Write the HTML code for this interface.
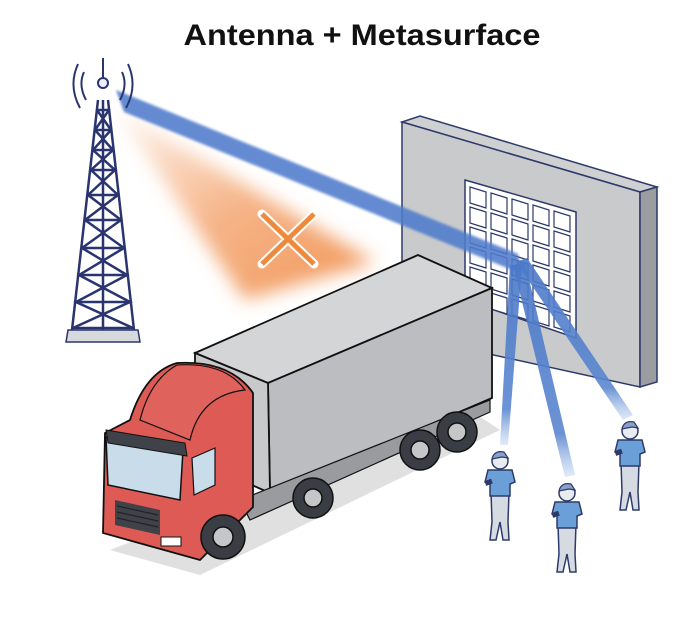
<!DOCTYPE html>
<html><head><meta charset="utf-8"><style>
html,body{margin:0;padding:0;background:#fff}
svg{display:block}
</style></head><body>
<svg width="690" height="621" viewBox="0 0 690 621" xmlns="http://www.w3.org/2000/svg">
<defs>
<linearGradient id="og" x1="0" y1="0" x2="1" y2="1">
<stop offset="0" stop-color="#f4a06a" stop-opacity="0.1"/>
<stop offset="0.5" stop-color="#f29a5e" stop-opacity="0.75"/>
<stop offset="1" stop-color="#f08a45" stop-opacity="0.9"/>
</linearGradient>
<filter id="blur" x="-20%" y="-20%" width="140%" height="140%"><feGaussianBlur stdDeviation="9"/></filter>
<filter id="blur2" x="-20%" y="-20%" width="140%" height="140%"><feGaussianBlur stdDeviation="1.2"/></filter>
<linearGradient id="bg1" x1="0" y1="0" x2="0" y2="1">
<stop offset="0" stop-color="#4a78c8"/>
<stop offset="0.8" stop-color="#5a86d0"/>
<stop offset="1" stop-color="#a9c3ea" stop-opacity="0.4"/>
</linearGradient>
<g id="person">
<path d="M-9,22 L-8,52 L-10,70 L-4,70 L0,52 L3,70 L9,70 L8,52 L9,22 Z" fill="#d6dbe2" stroke="#2d3a6a" stroke-width="1.5"/>
<path d="M-12,0 L12,0 L15,12 L10,14 L10,26 L-10,26 L-10,14 L-15,12 Z" fill="#6a9fd8" stroke="#2d3a6a" stroke-width="1.5"/>
<circle cx="0" cy="-9" r="8" fill="#e8ecf0" stroke="#2d3a6a" stroke-width="1.5"/>
<path d="M-8,-11 Q-6,-20 4,-18 L8,-12 L2,-13 Z" fill="#8aa0c8" stroke="#2d3a6a" stroke-width="1.2"/>
<rect x="-15" y="10" width="7" height="5" fill="#2d3a6a" transform="rotate(-20 -12 12)"/>
</g>
</defs>
<text x="362" y="45" text-anchor="middle" font-family="Liberation Sans, sans-serif" font-weight="bold" font-size="30" textLength="357" lengthAdjust="spacingAndGlyphs" fill="#111">Antenna + Metasurface</text>

<!-- orange cone -->
<polygon points="115,108 245,300 375,262" fill="url(#og)" filter="url(#blur)"/>
<!-- X -->
<g stroke="#fff" stroke-width="9" stroke-linecap="round"><line x1="262" y1="214" x2="314" y2="264"/><line x1="314" y1="214" x2="262" y2="264"/></g>
<g stroke="#ef8a3c" stroke-width="5"><line x1="262" y1="214" x2="314" y2="264"/><line x1="314" y1="214" x2="262" y2="264"/></g>

<!-- wall -->
<polygon points="402,122 420,116 657,187 640,192" fill="#cfd0d2" stroke="#2d3a6a" stroke-width="1.5"/>
<polygon points="402,122 640,192 640,387 402,335" fill="#c9cacc" stroke="#2d3a6a" stroke-width="1.5"/>
<polygon points="640,192 657,187 657,382 640,387" fill="#9c9da0" stroke="#2d3a6a" stroke-width="1.5"/>
<!-- metasurface -->
<polygon points="465,180 576,212 576,338 465,300" fill="#fff" stroke="#2d3a6a" stroke-width="1.5"/>
<g fill="#fff" stroke="#2d3a6a" stroke-width="1.2">
<g id="row">
<polygon points="470,187 486,192 486,208 470,203"/>
<polygon points="491,193 507,198 507,214 491,209"/>
<polygon points="512,199 528,204 528,220 512,215"/>
<polygon points="533,205 549,210 549,226 533,221"/>
<polygon points="554,211 570,216 570,232 554,227"/>
</g>
<use href="#row" y="20"/><use href="#row" y="40"/><use href="#row" y="60"/><use href="#row" y="80"/><use href="#row" y="100"/>
</g>

<!-- beams -->
<polygon points="116,90 124,112 522,274 518,254" fill="#4f7ccc" opacity="0.88" filter="url(#blur2)"/>
<polygon points="510,265 522,265 508,445 500,445" fill="url(#bg1)" opacity="0.9"/>
<polygon points="513,265 525,262 575,475 565,477" fill="url(#bg1)" opacity="0.9"/>
<polygon points="516,262 527,258 633,415 623,420" fill="url(#bg1)" opacity="0.9"/>

<!-- tower -->
<g stroke="#2a3570" stroke-width="2.5" fill="none">
<path d="M98,100 L72,330 M108,100 L134,330 M103,100 L103,330"/>
<path d="M97,110 L109,110 M95,130 L111,130 M93,150 L113,150 M91,170 L115,170 M88,195 L118,195 M85,220 L121,220 M82,248 L124,248 M79,275 L127,275 M76,302 L130,302 M73,328 L133,328"/>
<path d="M97,110 L111,130 L93,150 L115,170 L88,195 L121,220 L82,248 L127,275 L76,302 L133,328"/>
<path d="M109,110 L95,130 L113,150 L91,170 L118,195 L85,220 L124,248 L79,275 L130,302 L73,328"/>
<path d="M84,72 Q78,85 86,100 M122,72 Q128,85 120,100 M78,64 Q68,86 80,108 M128,64 Q138,86 126,108" stroke-width="2"/>
<line x1="103" y1="58" x2="103" y2="78" stroke-width="2"/>
</g>
<circle cx="103" cy="83" r="5" fill="#eef" stroke="#2a3570" stroke-width="2"/>
<polygon points="68,330 138,330 140,342 66,342" fill="#d8d9dc" stroke="#2a3570" stroke-width="1.5"/>

<!-- truck shadow -->
<polygon points="110,550 200,575 500,430 470,410" fill="#e0e0e0"/>
<!-- truck box -->
<polygon points="195,353 418,255 492,288 268,383" fill="#d4d5d7" stroke="#111" stroke-width="1.8"/>
<polygon points="268,383 492,288 492,398 270,493" fill="#bcbdc0" stroke="#111" stroke-width="1.8"/>
<polygon points="195,353 268,383 270,493 195,460" fill="#c8c9cb" stroke="#111" stroke-width="1.8"/>
<!-- chassis -->
<polygon points="240,500 490,400 490,412 250,520" fill="#9a9b9e" stroke="#111" stroke-width="1.2"/>
<!-- wheels -->
<g stroke="#111" stroke-width="1.5">
<circle cx="457" cy="432" r="20" fill="#3a3d44"/><circle cx="457" cy="432" r="9" fill="#c5c6c8"/>
<circle cx="420" cy="450" r="20" fill="#3a3d44"/><circle cx="420" cy="450" r="9" fill="#c5c6c8"/>
<circle cx="313" cy="498" r="20" fill="#3a3d44"/><circle cx="313" cy="498" r="9" fill="#c5c6c8"/>
</g>
<!-- cab -->
<path d="M105,433 L130,420 Q145,372 177,363 Q230,360 253,393 L253,507 L200,560 L103,533 Z" fill="#dd5a55" stroke="#111" stroke-width="1.8"/>
<path d="M140,420 Q150,380 177,365 Q225,362 245,390 Q200,395 190,440 Z" fill="#e0625c" stroke="#111" stroke-width="1.2"/>
<polygon points="106,437 183,450 180,500 108,485" fill="#c8dcea" stroke="#111" stroke-width="1.5"/>
<polygon points="106,430 185,443 187,456 108,443" fill="#3f4249" stroke="#111" stroke-width="1"/>
<polygon points="192,458 215,448 215,485 194,495" fill="#c8dcea" stroke="#111" stroke-width="1.2"/>
<polygon points="115,500 160,510 160,535 115,525" fill="#3f4249"/>
<g stroke="#222" stroke-width="1.2"><line x1="117" y1="506" x2="158" y2="515"/><line x1="117" y1="512" x2="158" y2="521"/><line x1="117" y1="518" x2="158" y2="527"/></g>
<rect x="161" y="537" width="20" height="9" fill="#fff" stroke="#111" stroke-width="1"/>
<g stroke="#111" stroke-width="1.5"><circle cx="223" cy="537" r="22" fill="#3a3d44"/><circle cx="223" cy="537" r="10" fill="#c5c6c8"/></g>

<!-- people -->
<use href="#person" transform="translate(500,470)"/>
<use href="#person" transform="translate(567,502)"/>
<use href="#person" transform="translate(630,440)"/>
</svg>
</body></html>
